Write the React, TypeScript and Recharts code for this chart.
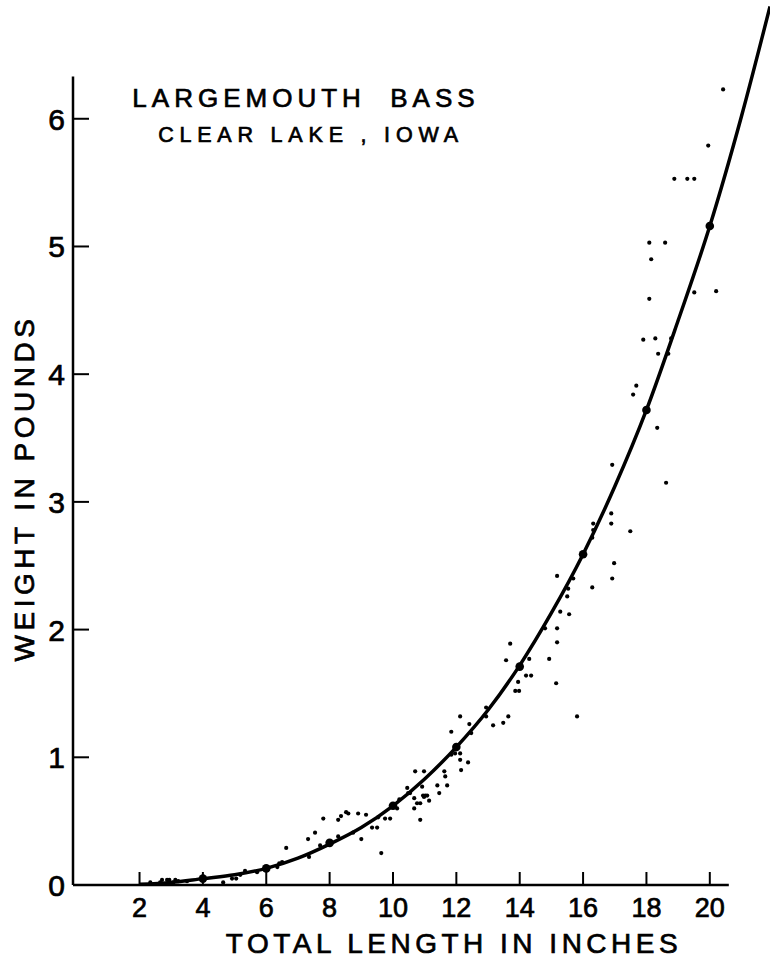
import React from "react";
import {
  ComposedChart,
  Customized,
  Line,
  ReferenceLine,
  Scatter,
  XAxis,
  YAxis,
} from "recharts";

// axis ticks
const lengthTicks = [2, 4, 6, 8, 10, 12, 14, 16, 18, 20];
const weightTicks = [0, 1, 2, 3, 4, 5, 6];

// fitted length-weight curve
const curveLength = [2, 3, 4, 5, 6, 7, 8, 9, 10, 11, 12, 13, 14, 15, 16, 17, 18, 19, 20, 21, 21.9];
const curveWeight = [0.005, 0.02, 0.05, 0.08, 0.13, 0.21, 0.32, 0.45, 0.62, 0.83, 1.08, 1.37, 1.72, 2.13, 2.59, 3.12, 3.72, 4.42, 5.16, 6.02, 6.88];

// mean weights (heavy dots on the curve)
const meanLength = [4, 6, 8, 10, 12, 14, 16, 18, 20];
const meanWeight = [0.05, 0.13, 0.33, 0.62, 1.08, 1.71, 2.59, 3.72, 5.16];

// individual fish
const fishLength = [
  2.34, 2.65, 2.71, 2.87, 2.94, 3.06, 3.13, 3.22, 3.5, 4.64, 4.92, 5.05, 5.18, 5.33, 5.71,
  6.35, 6.41, 6.5, 6.63, 7.32, 7.35, 7.54, 7.7, 7.8, 7.99, 8.27, 8.36, 8.52, 8.59, 8.27,
  8.74, 8.9, 9.15, 9.0, 9.34, 9.5, 9.53, 9.63, 9.75, 9.91, 9.97, 10.13, 10.2, 10.45, 10.48,
  10.54, 10.67, 10.67, 10.76, 10.86, 10.86, 10.92, 10.95, 11.02, 11.08, 10.98, 11.14, 11.4, 11.46, 10.7,
  10.98, 11.62, 11.65, 11.71, 11.84, 11.84, 11.96, 12.12, 12.12, 12.15, 12.37, 12.12, 12.41, 12.47, 12.94,
  12.94, 13.16, 13.48, 13.64, 13.7, 13.57, 13.95, 14.2, 14.36, 13.86, 13.98, 14.3, 14.8, 14.93, 15.15,
  15.18, 15.18, 15.18, 15.28, 15.56, 15.5, 15.53, 15.69, 15.81, 16.29, 16.29, 16.32, 16.32, 16.89, 16.89,
  16.98, 16.92, 17.49, 16.92, 18.62, 18.34, 17.68, 17.58, 17.9, 18.28, 18.78, 18.37, 18.69, 18.09, 19.51,
  20.2, 18.15, 18.09, 18.59, 18.88, 19.29, 19.51, 19.95, 20.42,
];
const fishWeight = [
  0.02, 0.02, 0.04, 0.04, 0.04, 0.02, 0.04, 0.03, 0.03, 0.02, 0.05, 0.05, 0.08, 0.11, 0.1,
  0.14, 0.17, 0.18, 0.29, 0.36, 0.22, 0.41, 0.31, 0.52, 0.32, 0.51, 0.54, 0.57, 0.56, 0.38,
  0.41, 0.56, 0.55, 0.36, 0.45, 0.45, 0.53, 0.25, 0.52, 0.52, 0.61, 0.6, 0.67, 0.76, 0.72,
  0.72, 0.68, 0.6, 0.64, 0.64, 0.51, 0.77, 0.7, 0.7, 0.7, 0.69, 0.66, 0.78, 0.72, 0.89,
  0.89, 0.89, 0.85, 0.78, 1.2, 1.02, 1.03, 1.03, 0.98, 0.9, 0.96, 1.32, 1.26, 1.19, 1.32,
  1.39, 1.25, 1.27, 1.32, 1.89, 1.76, 1.59, 1.64, 1.64, 1.52, 1.52, 1.77, 2.01, 1.77, 1.58,
  1.9, 2.01, 2.42, 2.14, 2.12, 2.26, 2.32, 2.4, 1.32, 2.33, 2.72, 2.78, 2.83, 2.91, 2.83,
  2.52, 2.4, 2.77, 3.29, 3.15, 3.58, 3.91, 3.84, 4.27, 4.28, 4.28, 4.16, 4.16, 4.59, 4.64,
  4.65, 4.9, 5.03, 5.03, 5.53, 5.53, 5.53, 5.79, 6.23,
];

const curve = curveLength.map((L, i) => ({ L, W: curveWeight[i] }));
const means = meanLength.map((L, i) => ({ L, W: meanWeight[i] }));
const fish = fishLength.map((L, i) => ({ L, W: fishWeight[i] }));

const FONT = "'Liberation Sans', Arial, sans-serif";
// the hand lettering is a little heavier than the regular face
const ink = { fill: "#000", stroke: "#000", strokeWidth: 0.7 };

const LengthTick = ({ x, y, payload }: any) => (
  <g>
    <line x1={x} x2={x} y1={y} y2={y - 13} stroke="#000" strokeWidth={2} />
    <text x={x} y={y + 32} textAnchor="middle" fontSize={27} fontFamily={FONT} {...ink}>
      {payload.value}
    </text>
  </g>
);

const WeightTick = ({ x, y, payload }: any) => (
  <g>
    <line x1={x} x2={x + 16} y1={y} y2={y} stroke="#000" strokeWidth={2} />
    <text x={x - 8} y={y + 11} textAnchor="end" fontSize={30} fontFamily={FONT} {...ink}>
      {payload.value}
    </text>
  </g>
);

const dot = (r: number) => (props: any) => <circle cx={props.cx} cy={props.cy} r={r} fill="#000" />;

const Titles = () => (
  <g fontFamily={FONT} {...ink}>
    <text x={306} y={107} textAnchor="middle" fontSize={26} letterSpacing={5} style={{ whiteSpace: "pre" }}>
      LARGEMOUTH  BASS
    </text>
    <text x={311} y={142} textAnchor="middle" fontSize={21.5} letterSpacing={5.8} style={{ whiteSpace: "pre" }}>
      CLEAR LAKE , IOWA
    </text>
    <text x={454} y={953} textAnchor="middle" fontSize={28} letterSpacing={4.5}>
      TOTAL LENGTH IN INCHES
    </text>
    <text
      x={34}
      y={488}
      textAnchor="middle"
      fontSize={28}
      letterSpacing={4.5}
      transform="rotate(-90 34 488)"
    >
      WEIGHT IN POUNDS
    </text>
  </g>
);

export default function App() {
  return (
    <div style={{ position: "absolute", left: 0, top: 0, background: "#fff" }}>
      <ComposedChart width={770} height={959} margin={{ top: 0, right: 0, bottom: 0, left: 0 }}>
        <XAxis
          dataKey="L"
          type="number"
          domain={[-0.1, 21.9]}
          ticks={lengthTicks}
          interval={0}
          allowDataOverflow
          axisLine={false}
          tickLine={false}
          tickSize={0}
          tickMargin={0}
          height={74}
          tick={<LengthTick />}
        />
        <YAxis
          dataKey="W"
          type="number"
          domain={[0, 6.93]}
          ticks={weightTicks}
          interval={0}
          allowDataOverflow
          axisLine={false}
          tickLine={false}
          tickSize={0}
          tickMargin={0}
          width={73}
          tick={<WeightTick />}
        />
        <ReferenceLine
          segment={[{ x: -0.1, y: 0 }, { x: 20.6, y: 0 }]}
          stroke="#000"
          strokeWidth={2.5}
        />
        <ReferenceLine
          segment={[{ x: -0.1, y: 0 }, { x: -0.1, y: 6.33 }]}
          stroke="#000"
          strokeWidth={2.5}
        />
        <Scatter data={fish} dataKey="W" shape={dot(2.1)} isAnimationActive={false} />
        <Line
          data={curve}
          dataKey="W"
          type="monotone"
          stroke="#000"
          strokeWidth={3.5}
          dot={false}
          activeDot={false}
          isAnimationActive={false}
        />
        <Scatter data={means} dataKey="W" shape={dot(4.3)} isAnimationActive={false} />
        <Customized component={Titles} />
      </ComposedChart>
    </div>
  );
}
